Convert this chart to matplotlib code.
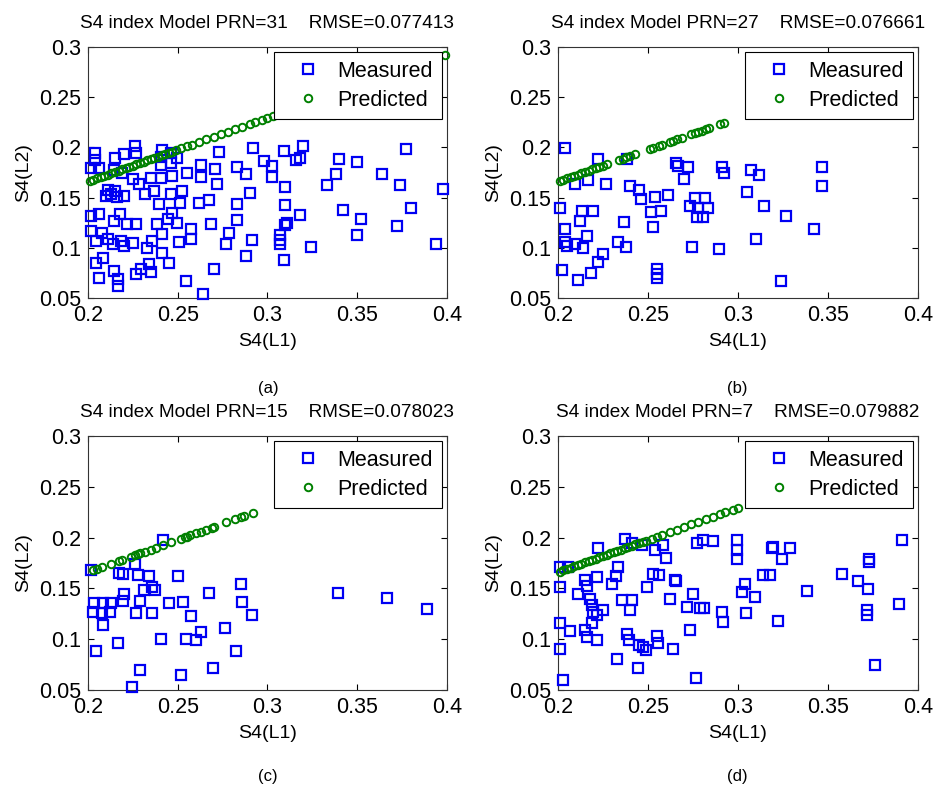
import matplotlib
matplotlib.use("Agg")
import matplotlib.pyplot as plt

plt.rcParams['font.family'] = ['Liberation Sans', 'DejaVu Sans']

# ---------------- data ----------------
titles = ["S4 index Model PRN=31    RMSE=0.077413",
          "S4 index Model PRN=27    RMSE=0.076661",
          "S4 index Model PRN=15    RMSE=0.078023",
          "S4 index Model PRN=7    RMSE=0.079882"]
captions = ["(a)", "(b)", "(c)", "(d)"]
x_label = "S4(L1)"
y_label = "S4(L2)"
x_ticks = [0.2, 0.25, 0.3, 0.35, 0.4]
x_tick_labels = ["0.2", "0.25", "0.3", "0.35", "0.4"]
y_ticks = [0.05, 0.1, 0.15, 0.2, 0.25, 0.3]
y_tick_labels = ["0.05", "0.1", "0.15", "0.2", "0.25", "0.3"]
legend_labels = ["Measured", "Predicted"]

# Panel (a) PRN 31
meas_a_x = [0.226, 0.220, 0.204, 0.204, 0.215, 0.227, 0.2415, 0.2405, 0.246, 0.2498,
            0.2405, 0.246, 0.273, 0.292, 0.298, 0.263, 0.255, 0.247, 0.263, 0.271,
            0.283, 0.288, 0.2017, 0.2063, 0.235, 0.2405, 0.2285, 0.225, 0.219, 0.2145,
            0.272, 0.290, 0.211, 0.213, 0.215, 0.210, 0.216, 0.220, 0.232, 0.2369,
            0.2396, 0.2526, 0.251, 0.246, 0.2619, 0.2674, 0.283, 0.2017, 0.2063, 0.218,
            0.2146, 0.222, 0.2267, 0.2387, 0.2443, 0.2498, 0.247, 0.2683, 0.283, 0.2785,
            0.2767, 0.2017, 0.208, 0.2044, 0.2109, 0.2137, 0.2183, 0.2248, 0.2202, 0.2331,
            0.2359, 0.2415, 0.2507, 0.2572, 0.2572, 0.2915, 0.2878, 0.2081, 0.2044, 0.2146,
            0.2063, 0.2165, 0.2165, 0.2267, 0.2294, 0.2341, 0.235, 0.2415, 0.2452, 0.2702,
            0.2544, 0.2642,
            0.309, 0.320, 0.318, 0.316, 0.3026, 0.3026, 0.310, 0.310, 0.318, 0.311,
            0.310, 0.307, 0.307, 0.307, 0.309, 0.324, 0.340, 0.338, 0.333, 0.350,
            0.342, 0.352, 0.350, 0.364, 0.374, 0.377, 0.380, 0.372, 0.394, 0.398]
meas_a_y = [0.201, 0.193, 0.194, 0.187, 0.189, 0.194, 0.197, 0.190, 0.194, 0.189,
            0.182, 0.184, 0.195, 0.199, 0.186, 0.182, 0.175, 0.172, 0.171, 0.178,
            0.180, 0.174, 0.179, 0.179, 0.170, 0.170, 0.164, 0.169, 0.175, 0.177,
            0.164, 0.155, 0.158, 0.154, 0.157, 0.152, 0.151, 0.152, 0.154, 0.157,
            0.144, 0.157, 0.145, 0.154, 0.145, 0.148, 0.144, 0.132, 0.134, 0.134,
            0.127, 0.124, 0.124, 0.124, 0.129, 0.125, 0.135, 0.124, 0.128, 0.115,
            0.104, 0.117, 0.115, 0.107, 0.109, 0.104, 0.107, 0.105, 0.102, 0.100,
            0.107, 0.114, 0.106, 0.119, 0.109, 0.108, 0.092, 0.090, 0.085, 0.077,
            0.070, 0.069, 0.062, 0.074, 0.079, 0.084, 0.076, 0.095, 0.085, 0.079,
            0.067, 0.054,
            0.196, 0.201, 0.189, 0.187, 0.181, 0.171, 0.161, 0.143, 0.133, 0.125,
            0.123, 0.113, 0.108, 0.104, 0.088, 0.101, 0.188, 0.174, 0.163, 0.185,
            0.138, 0.129, 0.113, 0.174, 0.163, 0.198, 0.140, 0.122, 0.104, 0.159]
pred_a_x = [0.201, 0.203, 0.205, 0.207, 0.209, 0.211, 0.213, 0.215, 0.217, 0.219,
            0.221, 0.223, 0.225, 0.227, 0.229, 0.231, 0.233, 0.235, 0.237, 0.239,
            0.241, 0.243, 0.245, 0.247, 0.249, 0.252, 0.255, 0.258, 0.262, 0.266,
            0.270, 0.274, 0.278, 0.282, 0.286, 0.290, 0.293, 0.297, 0.300, 0.303,
            0.399]
pred_a_y = [0.1666, 0.1679, 0.1692, 0.1704, 0.1717, 0.1730, 0.1743, 0.1755, 0.1768, 0.1781,
            0.1793, 0.1806, 0.1819, 0.1831, 0.1844, 0.1857, 0.1870, 0.1882, 0.1895, 0.1908,
            0.1920, 0.1933, 0.1946, 0.1958, 0.1971, 0.1990, 0.2009, 0.2028, 0.2054, 0.2079,
            0.2105, 0.2130, 0.2155, 0.2181, 0.2206, 0.2232, 0.2251, 0.2276, 0.2295, 0.2314,
            0.2923]

# Panel (b) PRN 27
meas_b_x = [0.2039, 0.2224, 0.2382, 0.2656, 0.2668, 0.2724, 0.270, 0.2909, 0.2922, 0.2168,
            0.2094, 0.2267, 0.2400, 0.2452, 0.2459, 0.2539, 0.2613, 0.2011, 0.2131, 0.2192,
            0.2122, 0.2517, 0.2572, 0.2367, 0.2526, 0.2733, 0.2761, 0.2817, 0.2780, 0.2835,
            0.2770, 0.2807, 0.2039, 0.2159, 0.2039, 0.2048, 0.2094, 0.2141, 0.2335, 0.2378,
            0.2744, 0.2896, 0.2248, 0.2220, 0.2020, 0.2183, 0.2109, 0.2548, 0.2548, 0.2548,
            0.3071, 0.3119, 0.3052, 0.3146, 0.3267, 0.3100, 0.3237, 0.3422, 0.3465, 0.3465]
meas_b_y = [0.1993, 0.188, 0.188, 0.1847, 0.181, 0.1803, 0.1687, 0.180, 0.1747, 0.1677,
            0.1637, 0.164, 0.162, 0.158, 0.1487, 0.1503, 0.1527, 0.1393, 0.137, 0.137,
            0.127, 0.136, 0.137, 0.126, 0.1203, 0.142, 0.150, 0.150, 0.140, 0.1393,
            0.1303, 0.1303, 0.1187, 0.112, 0.1053, 0.102, 0.1037, 0.0997, 0.1053, 0.1003,
            0.1003, 0.0987, 0.0937, 0.0863, 0.0777, 0.0747, 0.068, 0.0787, 0.0737, 0.0697,
            0.1777, 0.173, 0.156, 0.142, 0.132, 0.1087, 0.067, 0.1187, 0.1803, 0.162]
pred_b_x = [0.201, 0.203, 0.205, 0.207, 0.209, 0.211, 0.213, 0.215, 0.217, 0.219,
            0.221, 0.223, 0.225, 0.227, 0.234, 0.236, 0.238, 0.240, 0.243, 0.251,
            0.253, 0.256, 0.258, 0.262, 0.264, 0.266, 0.269, 0.274, 0.276, 0.278,
            0.280, 0.282, 0.284, 0.290, 0.292]
pred_b_y = [0.1666, 0.1679, 0.1692, 0.1704, 0.1717, 0.1730, 0.1743, 0.1755, 0.1768, 0.1781,
            0.1793, 0.1806, 0.1819, 0.1831, 0.1876, 0.1889, 0.1901, 0.1914, 0.1933, 0.1984,
            0.1997, 0.2016, 0.2028, 0.2054, 0.2066, 0.2079, 0.2098, 0.2130, 0.2143, 0.2155,
            0.2168, 0.2181, 0.2193, 0.2232, 0.2244]

# Panel (c) PRN 15
meas_c_x = [0.2420, 0.2017, 0.2174, 0.2193, 0.2263, 0.2276, 0.2341, 0.2504, 0.2313, 0.2359,
            0.2372, 0.2202, 0.2031, 0.2081, 0.2128, 0.2193, 0.2291, 0.2452, 0.2530, 0.2674,
            0.2855, 0.2859, 0.2026, 0.2076, 0.2124, 0.2267, 0.2355, 0.2572, 0.2915, 0.2081,
            0.2761, 0.2628, 0.2405, 0.2544, 0.2600, 0.2168, 0.2044, 0.2822, 0.2291, 0.2520,
            0.2698, 0.2244, 0.3391, 0.3665, 0.3887]
meas_c_y = [0.198, 0.1678, 0.1652, 0.164, 0.1737, 0.1632, 0.1625, 0.1625, 0.1485, 0.151,
            0.1485, 0.1442, 0.1354, 0.1354, 0.1360, 0.138, 0.1377, 0.1354, 0.1370, 0.1459,
            0.1544, 0.1364, 0.1265, 0.1255, 0.1265, 0.1255, 0.1258, 0.1226, 0.1239, 0.1144,
            0.1108, 0.1072, 0.1000, 0.1000, 0.0993, 0.0967, 0.0879, 0.0879, 0.0695, 0.0646,
            0.0715, 0.0528, 0.1455, 0.1406, 0.1295]
pred_c_x = [0.203, 0.205, 0.208, 0.213, 0.217, 0.219, 0.224, 0.226, 0.228, 0.229,
            0.232, 0.235, 0.238, 0.242, 0.246, 0.252, 0.254, 0.255, 0.257, 0.260,
            0.263, 0.266, 0.269, 0.270, 0.277, 0.282, 0.285, 0.287, 0.292]
pred_c_y = [0.1679, 0.1692, 0.1711, 0.1743, 0.1768, 0.1781, 0.1812, 0.1825, 0.1838, 0.1844,
            0.1863, 0.1882, 0.1901, 0.1927, 0.1952, 0.1990, 0.2003, 0.2009, 0.2022, 0.2041,
            0.2060, 0.2079, 0.2098, 0.2105, 0.2149, 0.2181, 0.2200, 0.2212, 0.2244]

# Panel (d) PRN 7
meas_d_x = [0.2372, 0.2224, 0.2413, 0.2465, 0.2585, 0.2539, 0.2600, 0.2770, 0.2807, 0.2859,
            0.2011, 0.2057, 0.2335, 0.2150, 0.2215, 0.2322, 0.2298, 0.2563, 0.2526, 0.2650,
            0.2656, 0.2493, 0.2011, 0.2113, 0.2159, 0.2178, 0.2354, 0.2409, 0.2400, 0.2622,
            0.2748, 0.2187, 0.2196, 0.2252, 0.2215, 0.2715, 0.2789, 0.2811, 0.2909, 0.2915,
            0.2011, 0.2067, 0.2150, 0.2159, 0.2187, 0.2219, 0.2381, 0.2396, 0.2452, 0.2474,
            0.2489, 0.2548, 0.2557, 0.2641, 0.2733, 0.2011, 0.2326, 0.2446, 0.2026, 0.2765,
            0.2996, 0.2996, 0.2996, 0.3039, 0.3020, 0.3094, 0.3044, 0.3141, 0.3178, 0.3187,
            0.3196, 0.3243, 0.3289, 0.3224, 0.3382, 0.3576, 0.3669, 0.3724, 0.3730, 0.3730,
            0.3715, 0.3715, 0.3761, 0.3895, 0.3910]
meas_d_y = [0.1983, 0.190, 0.1945, 0.1929, 0.1929, 0.188, 0.1804, 0.1945, 0.198, 0.1968,
            0.1710, 0.1710, 0.1710, 0.1586, 0.1612, 0.1619, 0.1547, 0.1632, 0.1645, 0.1586,
            0.1573, 0.1514, 0.1514, 0.1442, 0.1521, 0.1400, 0.1390, 0.1390, 0.1292, 0.1400,
            0.1442, 0.1334, 0.1269, 0.1285, 0.1236, 0.1318, 0.1308, 0.1308, 0.1269, 0.1170,
            0.1160, 0.1078, 0.1088, 0.1023, 0.1160, 0.0990, 0.1055, 0.0990, 0.0947, 0.0924,
            0.0891, 0.1029, 0.0963, 0.0901, 0.1095, 0.0908, 0.0802, 0.0721, 0.0596, 0.0616,
            0.1973, 0.1882, 0.1793, 0.1540, 0.1465, 0.1416, 0.1258, 0.1635, 0.1628, 0.1901,
            0.1907, 0.1793, 0.1901, 0.1180, 0.1475, 0.1642, 0.1570, 0.1494, 0.1793, 0.1760,
            0.1285, 0.1242, 0.0744, 0.1350, 0.1973]
pred_d_x = [0.201, 0.203, 0.205, 0.207, 0.209, 0.211, 0.213, 0.215, 0.217, 0.219,
            0.221, 0.223, 0.225, 0.227, 0.229, 0.231, 0.233, 0.235, 0.237, 0.239,
            0.241, 0.243, 0.245, 0.247, 0.249, 0.252, 0.255, 0.258, 0.262, 0.266,
            0.270, 0.274, 0.278, 0.282, 0.286, 0.290, 0.293, 0.297, 0.300, 0.391]
pred_d_y = [0.1666, 0.1679, 0.1692, 0.1704, 0.1717, 0.1730, 0.1743, 0.1755, 0.1768, 0.1781,
            0.1793, 0.1806, 0.1819, 0.1831, 0.1844, 0.1857, 0.1870, 0.1882, 0.1895, 0.1908,
            0.1920, 0.1933, 0.1946, 0.1958, 0.1971, 0.1990, 0.2009, 0.2028, 0.2054, 0.2079,
            0.2105, 0.2130, 0.2155, 0.2181, 0.2206, 0.2232, 0.2251, 0.2276, 0.2295, 0.2900]

panels = [
    (meas_a_x, meas_a_y, pred_a_x, pred_a_y),
    (meas_b_x, meas_b_y, pred_b_x, pred_b_y),
    (meas_c_x, meas_c_y, pred_c_x, pred_c_y),
    (meas_d_x, meas_d_y, pred_d_x, pred_d_y),
]

# ---------------- layout ----------------
W, H = 937, 791
fig = plt.figure(figsize=(W / 100, H / 100), dpi=100)
fig.patch.set_facecolor("white")

# axes rectangles in pixels: (left, top, right, bottom)
rects = [(88, 47, 447, 298), (558, 47, 918, 298),
         (88, 436, 447, 690), (558, 436, 918, 690)]
cap_pos = [(268, 388), (737, 388), (268, 776), (737, 776)]

blue = (0.0, 0.0, 0.95)
green = (0.0, 0.5, 0.0)

for i, (mx, my, px, py) in enumerate(panels):
    l, t, r, b = rects[i]
    ax = fig.add_axes([l / W, 1 - b / H, (r - l) / W, (b - t) / H])
    ax.plot(mx, my, linestyle='none', marker='s', markersize=7.2,
            markerfacecolor='none', markeredgecolor=blue, markeredgewidth=1.6,
            label=legend_labels[0], clip_on=False, zorder=3)
    ax.plot(px, py, linestyle='none', marker='o', markersize=5.4,
            markerfacecolor='none', markeredgecolor=green, markeredgewidth=1.4,
            label=legend_labels[1], clip_on=False, zorder=3)
    ax.set_xlim(0.2, 0.4)
    ax.set_ylim(0.05, 0.3)
    ax.set_xticks(x_ticks)
    ax.set_xticklabels(x_tick_labels)
    ax.set_yticks(y_ticks)
    ax.set_yticklabels(y_tick_labels)
    ax.tick_params(direction='in', length=4, width=0.8, top=True, right=True,
                   labelsize=15.5, pad=5, colors='black')
    for sp in ax.spines.values():
        sp.set_linewidth(0.8)
        sp.set_color('#333333')
    ax.set_xlabel(x_label, fontsize=14, labelpad=5)
    ax.set_ylabel(y_label, fontsize=14, labelpad=5)
    ax.set_title(titles[i], fontsize=13.7, pad=14)
    leg = ax.legend(loc='upper right', fontsize=15.5, frameon=True, fancybox=False,
                    framealpha=1.0, borderaxespad=0.25, handlelength=2.4,
                    handletextpad=0.15, labelspacing=0.35, borderpad=0.4)
    leg.get_frame().set_edgecolor('black')
    leg.get_frame().set_linewidth(0.8)
    leg.set_zorder(5)
    fig.text(cap_pos[i][0] / W, 1 - cap_pos[i][1] / H, captions[i],
             ha='center', va='center', fontsize=12)

fig.savefig("out.png", dpi=100, facecolor="white")
